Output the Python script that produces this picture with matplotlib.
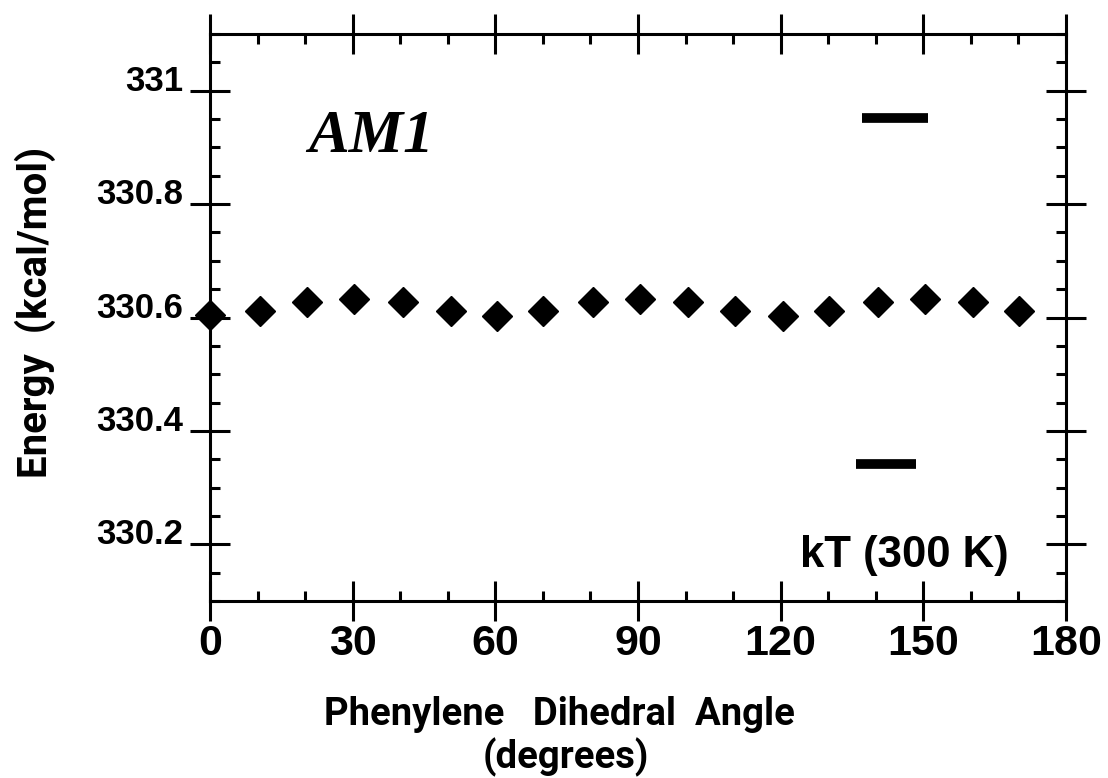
import matplotlib
matplotlib.use("Agg")
import matplotlib.pyplot as plt
from matplotlib.ticker import MultipleLocator

# dihedral angle (deg) and AM1 energy (kcal/mol)
angle = [0, 10.5, 20.5, 30.3, 40.6, 50.6, 60.3, 70.1, 80.6, 90.4,
         100.5, 110.5, 120.4, 130.2, 140.5, 150.3, 160.5, 170.1]
energy = [330.605, 330.611, 330.628, 330.633, 330.627, 330.611, 330.603, 330.611, 330.627,
          330.633, 330.628, 330.611, 330.603, 330.611, 330.627, 330.633, 330.627, 330.611]

# kT (300 K) scale bar, two short horizontal strokes
kt_top_x = [137.1, 151.0]
kt_top_y = [330.952, 330.952]
kt_bot_x = [135.8, 148.5]
kt_bot_y = [330.3425, 330.3425]

xticks = [0, 30, 60, 90, 120, 150, 180]
yticks = [330.2, 330.4, 330.6, 330.8, 331.0]
yticklabels = ["330.2", "330.4", "330.6", "330.8", "331"]

sans = ["Liberation Sans", "DejaVu Sans"]
narrow = ["Roboto", "Liberation Sans", "DejaVu Sans"]

fig = plt.figure(figsize=(11.08, 7.78), dpi=100)
ax = fig.add_axes([210 / 1108, 1 - 601 / 778, 856 / 1108, 567 / 778])

ax.plot(angle, energy, linestyle="none", marker="D", markersize=15.5,
        color="black", markeredgewidth=1.0, zorder=5, clip_on=False)
ax.plot(kt_top_x, kt_top_y, color="black", linewidth=7, solid_capstyle="butt")
ax.plot(kt_bot_x, kt_bot_y, color="black", linewidth=7, solid_capstyle="butt")

ax.set_xlim(0, 180)
ax.set_ylim(330.1, 331.1)
ax.set_xticks(xticks)
ax.set_xticklabels([str(t) for t in xticks])
ax.set_yticks(yticks)
ax.set_yticklabels(yticklabels)
ax.xaxis.set_minor_locator(MultipleLocator(10))
ax.yaxis.set_minor_locator(MultipleLocator(0.05))

for s in ax.spines.values():
    s.set_linewidth(2.2)

ax.tick_params(which="major", direction="inout", length=28.8, width=2.2,
               top=True, right=True)
ax.tick_params(which="minor", direction="in", length=7.2, width=2.2,
               top=True, right=True)
ax.tick_params(axis="x", which="major", pad=2)
ax.tick_params(axis="y", which="major", pad=5)

for lab in ax.get_xticklabels():
    lab.set_family(sans)
    lab.set_fontsize(31)
    lab.set_fontweight("bold")
for lab in ax.get_yticklabels():
    lab.set_family(sans)
    lab.set_fontsize(25)
    lab.set_fontweight("bold")
    lab.set_verticalalignment("baseline")

ax.text(0.1145, 0.792, "AM1", transform=ax.transAxes, ha="left", va="baseline",
        fontsize=44, fontweight="bold", fontstyle="italic",
        family=["Liberation Serif", "DejaVu Serif"])
ax.text(0.689, 0.06, "kT (300 K)", transform=ax.transAxes, ha="left", va="baseline",
        fontsize=31.5, fontweight="bold", family=sans)

# axis titles
fig.text(559 / 1108, 1 - 725 / 778, "Phenylene   Dihedral  Angle", ha="center",
         va="baseline", fontsize=27.5, fontweight="bold", family=narrow)
fig.text(566 / 1108, 1 - 768 / 778, "(degrees)", ha="center",
         va="baseline", fontsize=27.5, fontweight="bold", family=narrow)
fig.text(35 / 1108, 1 - 312 / 778, "Energy  (kcal/mol)", rotation=90, ha="center",
         va="center", fontsize=29, fontweight="bold", family=narrow)

fig.savefig("out.png", dpi=100)
